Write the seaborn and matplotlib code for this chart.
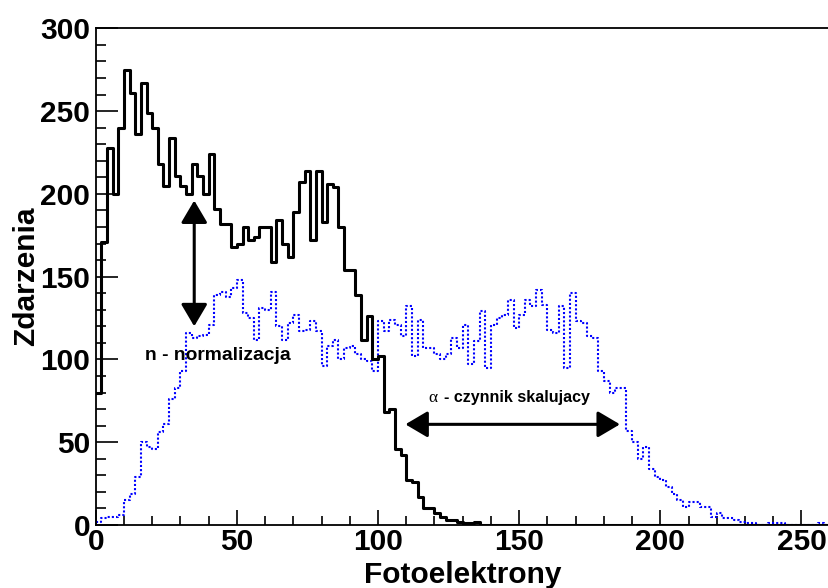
import numpy as np
import pandas as pd
import matplotlib
matplotlib.use("Agg")
import matplotlib.pyplot as plt
import seaborn as sns
from matplotlib.ticker import MultipleLocator

# ---- data (bin contents, bin width 2 photoelectrons, starting at 0) ----
bin_width = 2
black_counts = [80, 171, 228, 200, 240, 275, 261, 236, 267, 249,
                240, 218, 205, 234, 211, 205, 200, 218, 211, 200,
                224, 191, 182, 182, 168, 170, 180, 172, 174, 180,
                180, 159, 184, 170, 162, 189, 207, 214, 172, 214,
                183, 206, 204, 180, 154, 154, 139, 112, 126, 100,
                102, 68, 70, 46, 42, 27, 26, 17, 10, 10,
                7, 5, 3, 3, 2, 1, 1, 2, 0, 0]
blue_counts = [2, 4, 5, 5, 6, 15, 19, 29, 50, 47,
               46, 56, 61, 76, 83, 93, 116, 113, 114, 115,
               121, 139, 141, 138, 143, 148, 128, 125, 112, 131,
               130, 141, 120, 112, 122, 127, 117, 118, 123, 117,
               96, 108, 112, 100, 107, 108, 103, 100, 99, 93,
               123, 117, 124, 121, 114, 132, 102, 124, 107, 107,
               103, 100, 103, 113, 107, 121, 97, 111, 129, 95,
               121, 125, 127, 136, 119, 127, 136, 132, 142, 133,
               118, 116, 132, 95, 140, 123, 122, 114, 113, 93,
               87, 80, 83, 83, 57, 50, 40, 47, 34, 29,
               27, 23, 19, 15, 11, 14, 14, 11, 11, 5,
               7, 4, 4, 3, 2, 1, 1, 0, 0, 1,
               1, 1, 0, 0, 0, 0, 0, 0, 1, 0]
x_ticks = [0, 50, 100, 150, 200, 250]
y_ticks = [0, 50, 100, 150, 200, 250, 300]
x_title = "Fotoelektrony"
y_title = "Zdarzenia"
label_n = "n - normalizacja"
label_alpha_sym = "\u03b1"
label_alpha_text = "- czynnik skalujacy"

sns.set_style("white")
plt.rcParams["font.family"] = ["Liberation Sans", "DejaVu Sans"]
plt.rcParams["font.weight"] = "bold"
plt.rcParams["text.color"] = "black"
plt.rcParams["axes.labelcolor"] = "black"
plt.rcParams["xtick.color"] = "black"
plt.rcParams["ytick.color"] = "black"
plt.rcParams["axes.edgecolor"] = "black"

n_bins = len(blue_counts)
edges = [float(bin_width * i) for i in range(n_bins + 1)]
centers = [e + bin_width / 2 for e in edges[:-1]]
black_full = black_counts + [0] * (n_bins - len(black_counts))
df_black = pd.DataFrame({"x": centers, "w": black_full})
df_blue = pd.DataFrame({"x": centers, "w": blue_counts})

W, H = 829, 588
fig = plt.figure(figsize=(W / 100, H / 100), dpi=100)
ax = fig.add_axes([95.7 / W, (H - 525) / H, 734.0 / W, 496.7 / H])

sns.histplot(data=df_blue, x="x", weights="w", bins=edges, element="step",
             fill=False, color="#0000ff", linestyle=(0, (1, 1)),
             linewidth=1.5, ax=ax)
sns.histplot(data=df_black, x="x", weights="w", bins=edges, element="step",
             fill=False, color="black", linewidth=2.2, ax=ax)

ax.set_xlim(0, 260)
ax.set_ylim(0, 300)
ax.set_xticks(x_ticks)
ax.set_yticks(y_ticks)
ax.xaxis.set_minor_locator(MultipleLocator(10))
ax.yaxis.set_minor_locator(MultipleLocator(10))
ax.tick_params(axis="x", which="major", direction="in", length=11, width=1.2,
               pad=2, labelsize=21.5, bottom=True, top=False,
               colors="black")
ax.tick_params(axis="x", which="minor", direction="in", length=6.5, width=1.2,
               bottom=True, top=False, colors="black")
ax.tick_params(axis="y", which="major", direction="in", length=15.5, width=1.2,
               pad=4, labelsize=21.5, left=True, right=False,
               colors="black")
ax.tick_params(axis="y", which="minor", direction="in", length=7.5, width=1.2,
               left=True, right=False, colors="black")
for lab in ax.get_xticklabels() + ax.get_yticklabels():
    lab.set_fontweight("bold")
for s in ax.spines.values():
    s.set_linewidth(1.3)
    s.set_color("black")

ax.set_xlabel(x_title, fontsize=21.5, fontweight="bold", color="black")
ax.set_ylabel(y_title, fontsize=21.5, fontweight="bold", color="black")
ax.xaxis.set_label_coords(0.5, -0.117)
ax.xaxis.label.set_va("baseline")
ax.yaxis.set_label_coords(-0.0835, 0.5)
ax.yaxis.label.set_va("baseline")

# annotations
arrow_style = "<|-|>,head_length=1.05,head_width=0.62"
ax.annotate("", xy=(34.9, 196), xytext=(34.9, 120),
            arrowprops=dict(arrowstyle=arrow_style, color="black", lw=2.2,
                            shrinkA=0, shrinkB=0, mutation_scale=13))
ax.annotate("", xy=(109.7, 60.8), xytext=(185.7, 60.8),
            arrowprops=dict(arrowstyle=arrow_style, color="black", lw=2.2,
                            shrinkA=0, shrinkB=0, mutation_scale=13))
ax.text(17.5, 99.5, label_n, fontsize=13.9, fontweight="bold",
        ha="left", va="baseline", color="black")
ax.text(117.8, 74.0, label_alpha_sym, fontsize=12.5, fontweight="normal",
        family=["Liberation Serif", "DejaVu Serif"], ha="left", va="baseline",
        color="black")
ax.text(123.2, 74.0, label_alpha_text, fontsize=11.5, fontweight="bold",
        ha="left", va="baseline", color="black")

fig.savefig("out.png", dpi=100)
